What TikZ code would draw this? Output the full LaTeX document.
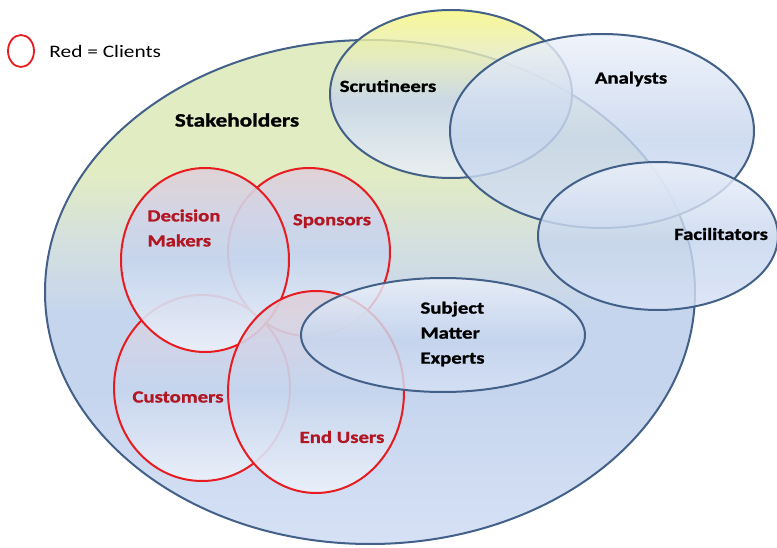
\documentclass[tikz,border=0pt]{standalone}
\usepackage{fontspec}
\setmainfont{Carlito}[FakeStretch=1.22, BoldFeatures={FakeBold=1.2}]
\usetikzlibrary{shapes.geometric, positioning}

\definecolor{rimblue}{RGB}{66,96,136}
\definecolor{rimred}{RGB}{232,28,32}
\definecolor{txtred}{RGB}{178,22,34}
\definecolor{paleblue}{RGB}{236,241,250}
\definecolor{midblue}{RGB}{198,213,238}
\definecolor{lowblue}{RGB}{214,225,245}
\definecolor{paleyellow}{RGB}{246,246,128}
\definecolor{yellowmix}{RGB}{228,234,196}
\definecolor{greenyellow}{RGB}{226,236,194}
\definecolor{greenblue}{RGB}{212,224,222}
\definecolor{pinkish}{RGB}{224,208,216}
\definecolor{pinkblue}{RGB}{210,212,232}

% path box runs from 25bp (bottom) to 75bp (top)
\pgfdeclareverticalshading{stakeshade}{100bp}{color(0bp)=(lowblue); color(25bp)=(lowblue);
    color(40bp)=(midblue); color(48bp)=(midblue); color(55bp)=(greenblue);
    color(62bp)=(greenyellow); color(100bp)=(greenyellow)}
\pgfdeclareverticalshading{scrutshade}{100bp}{color(0bp)=(paleblue); color(25bp)=(paleblue);
    color(48bp)=(midblue); color(60bp)=(yellowmix); color(75bp)=(paleyellow); color(100bp)=(paleyellow)}
\pgfdeclareverticalshading{blueshade}{100bp}{color(0bp)=(lowblue); color(25bp)=(lowblue);
    color(48bp)=(midblue); color(75bp)=(paleblue); color(100bp)=(paleblue)}
\pgfdeclareverticalshading{clientshade}{100bp}{color(0bp)=(paleblue); color(25bp)=(paleblue);
    color(50bp)=(midblue); color(62bp)=(pinkblue); color(75bp)=(pinkish); color(100bp)=(pinkish)}

\begin{document}
\begin{tikzpicture}[x=1pt, y=-1pt,
    blob/.style={ellipse, draw=rimblue, line width=2pt, inner sep=0pt,
        shading=blueshade, fill opacity=0.82},
    client/.style={blob, draw=rimred, shading=clientshade, fill opacity=0.9},
    lbl/.style={font=\bfseries\fontsize{17}{25}\selectfont, align=left, text=black},
    clbl/.style={lbl, text=txtred}]
        \useasboundingbox (0,0) rectangle (777,548);
        % groups
        \node[blob, minimum width=650, minimum height=504, shading=stakeshade, fill opacity=1] (stake) at (370,292) {};
        \node[blob, minimum width=242, minimum height=168, shading=scrutshade] (scrut) at (451,94) {};
        \node[blob, minimum width=304, minimum height=194] (anal) at (602,131) {};
        \node[blob, minimum width=240, minimum height=148] (facil) at (658,236) {};
        % clients
        \node[client, minimum width=176, minimum height=186] (cust) at (202,388) {};
        \node[client, minimum width=162, minimum height=168] (spons) at (309,252) {};
        \node[client, minimum width=168, minimum height=184] (decm) at (205,260) {};
        \node[client, minimum width=176, minimum height=202] (endu) at (316,392) {};
        \node[blob, minimum width=284, minimum height=114] (sme) at (443,335) {};
        % labels
        \node[lbl, font=\bfseries\fontsize{19}{23}\selectfont] (stake_l) at (237,120) {Stakeholders};
        \node[lbl] (scrut_l) at (388,86) {Scrutineers};
        \node[lbl] (anal_l) at (631,79) {Analysts};
        \node[lbl] (facil_l) at (721,234) {Facilitators};
        \node[lbl, anchor=west] (sme_l) at (417,334) {Subject\\Matter\\Experts};
        \node[clbl, anchor=west] (decm_l) at (144,228) {Decision\\Makers};
        \node[clbl] (spons_l) at (332,221) {Sponsors};
        \node[clbl] (cust_l) at (178,397) {Customers};
        \node[clbl] (endu_l) at (342,437) {End Users};
        % legend
        \node[ellipse, draw=rimred, line width=1.8pt, minimum width=26, minimum height=32, inner sep=0pt] (key) at (21,51) {};
        \node[font=\fontsize{17.5}{21}\selectfont, right=11pt of key] (key_l) {Red = Clients};
\end{tikzpicture}
\end{document}
